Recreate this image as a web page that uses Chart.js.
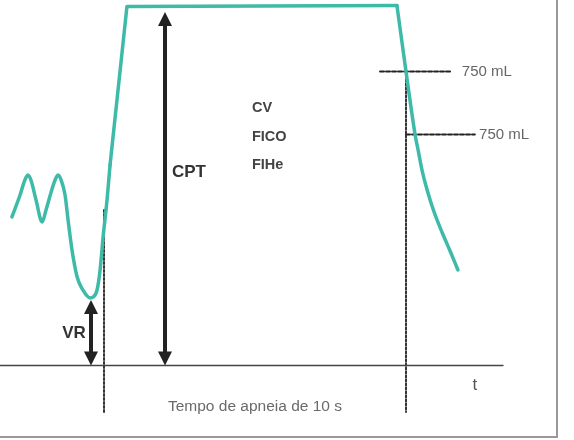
<!DOCTYPE html>
<html>
<head>
<meta charset="utf-8">
<script src="https://cdn.jsdelivr.net/npm/chart.js@4"></script>
<style>
  body { margin: 0; background: #fff; }
</style>
</head>
<body>
<canvas id="graf" width="574" height="440"></canvas>
<script>
// Curva de volume pulmonar (tempo em s, volume em mL)
const respTempo = [-3.05, -2.78, -2.62, -2.52, -2.42, -2.25, -2.05, -1.92, -1.75, -1.62, -1.52, -1.42, -1.29, -1.19, -1.06, -0.89, -0.70, -0.46, -0.36, -0.23, -0.13, -0.03, 0.10, 0.20]
const respVolume = [1768, 2030, 2208, 2268, 2208, 1970, 1708, 1851, 2066, 2208, 2268, 2208, 2030, 1732, 1375, 1054, 899, 804, 815, 899, 1137, 1530, 1970, 2387]
const inspTempo = [0.20, 0.76, 9.70]
const inspVolume = [2387, 4275, 4285]
const expTempo = [9.70, 10.0, 10.3, 10.40, 10.53, 10.70, 10.93, 11.19, 11.46, 11.72]
const expVolume = [4285, 3500, 2750, 2566, 2327, 2089, 1827, 1589, 1363, 1137]

// Marcas de 750 mL e apneia
const marcasVolume = [3500, 2750]
const marcasTexto = ["750 mL", "750 mL"]
const apneia = [0, 10]
const gases = ["CV", "FICO", "FIHe"]
const cpt = 4208
const vr = 780

// limites do eixo (s e mL)
const xMin = -3.444, xMax = 15.563
const yMin = -887, yMax = 4351

const teal = "#3dbaa8"
const fonte = "'Liberation Sans', Arial, sans-serif"

function pontos(ts, vs) {
  return ts.map((t, i) => ({ x: t, y: vs[i] }))
}

function seta(ctx, px, yTop, yBot) {
  const h = 14, w = 7
  ctx.save()
  ctx.strokeStyle = "#222"
  ctx.fillStyle = "#222"
  ctx.lineWidth = 4
  ctx.beginPath()
  ctx.moveTo(px, yTop + h - 2)
  ctx.lineTo(px, yBot - h + 2)
  ctx.stroke()
  ctx.beginPath()
  ctx.moveTo(px, yTop)
  ctx.lineTo(px - w, yTop + h)
  ctx.lineTo(px + w, yTop + h)
  ctx.closePath()
  ctx.fill()
  ctx.beginPath()
  ctx.moveTo(px, yBot)
  ctx.lineTo(px - w, yBot - h)
  ctx.lineTo(px + w, yBot - h)
  ctx.closePath()
  ctx.fill()
  ctx.restore()
}

const anotacoes = {
  id: "anotacoes",
  afterDatasetsDraw(chart) {
    const ctx = chart.ctx
    const x = chart.scales.x
    const y = chart.scales.y
    const base = y.getPixelForValue(0)

    seta(ctx, x.getPixelForValue(2.02), y.getPixelForValue(cpt), base)
    seta(ctx, x.getPixelForValue(-0.43), y.getPixelForValue(vr), base)

    ctx.save()
    ctx.textBaseline = "middle"
    ctx.fillStyle = "#333"
    ctx.font = "bold 17px " + fonte
    ctx.textAlign = "left"
    ctx.fillText("CPT", x.getPixelForValue(2.25), y.getPixelForValue(2304))
    ctx.textAlign = "right"
    ctx.fillText("VR", x.getPixelForValue(-0.6), y.getPixelForValue(387))

    ctx.font = "bold 14.5px " + fonte
    ctx.fillStyle = "#444"
    ctx.textAlign = "left"
    const gy = [3066, 2720, 2387]
    gases.forEach((g, i) => ctx.fillText(g, x.getPixelForValue(4.9), y.getPixelForValue(gy[i])))

    ctx.font = "15px " + fonte
    ctx.fillStyle = "#666"
    ctx.fillText(marcasTexto[0], x.getPixelForValue(11.85), y.getPixelForValue(marcasVolume[0]))
    ctx.fillText(marcasTexto[1], x.getPixelForValue(12.42), y.getPixelForValue(marcasVolume[1]))

    ctx.textAlign = "center"
    ctx.font = "15.5px " + fonte
    ctx.fillStyle = "#6a6a6a"
    ctx.fillText("Tempo de apneia de 10 s", x.getPixelForValue(5.0), y.getPixelForValue(-494))
    ctx.font = "17px " + fonte
    ctx.fillStyle = "#555"
    ctx.fillText("t", x.getPixelForValue(12.28), y.getPixelForValue(-232))

    // moldura
    ctx.strokeStyle = "#999"
    ctx.lineWidth = 2
    ctx.beginPath()
    ctx.moveTo(557, 0)
    ctx.lineTo(557, 437)
    ctx.lineTo(0, 437)
    ctx.stroke()
    ctx.restore()
  }
}

new Chart(document.getElementById("graf").getContext("2d"), {
  type: "scatter",
  data: {
    datasets: [
      { data: pontos(respTempo, respVolume), cubicInterpolationMode: "monotone" },
      { data: pontos(inspTempo, inspVolume), tension: 0 },
      { data: pontos(expTempo, expVolume), cubicInterpolationMode: "monotone" },
      // eixo do tempo
      { data: [{ x: xMin, y: 0 }, { x: 13.21, y: 0 }], borderColor: "#444", borderWidth: 1.5, tension: 0 },
      // linhas pontilhadas da apneia
      { data: [{ x: apneia[0], y: 1851 }, { x: apneia[0], y: -553 }], borderColor: "#333", borderWidth: 2, borderDash: [2, 2], tension: 0 },
      { data: [{ x: apneia[1], y: marcasVolume[0] }, { x: apneia[1], y: -553 }], borderColor: "#333", borderWidth: 2, borderDash: [2, 2], tension: 0 },
      // tracejados de 750 mL
      { data: [{ x: 9.14, y: marcasVolume[0] }, { x: 11.49, y: marcasVolume[0] }], borderColor: "#222", borderWidth: 2, borderDash: [4, 2], tension: 0 },
      { data: [{ x: apneia[1], y: marcasVolume[1] }, { x: 12.28, y: marcasVolume[1] }], borderColor: "#222", borderWidth: 2, borderDash: [4, 2], tension: 0 },
    ].map((d) => Object.assign({ showLine: true, pointRadius: 0, borderColor: teal, borderWidth: 3.5, borderCapStyle: "round", borderJoinStyle: "round" }, d))
  },
  options: {
    responsive: false,
    animation: false,
    layout: { padding: 0 },
    plugins: { legend: { display: false }, tooltip: { enabled: false } },
    scales: {
      x: { type: "linear", min: xMin, max: xMax, display: false },
      y: { type: "linear", min: yMin, max: yMax, display: false }
    }
  },
  plugins: [anotacoes]
})
</script>
</body>
</html>
